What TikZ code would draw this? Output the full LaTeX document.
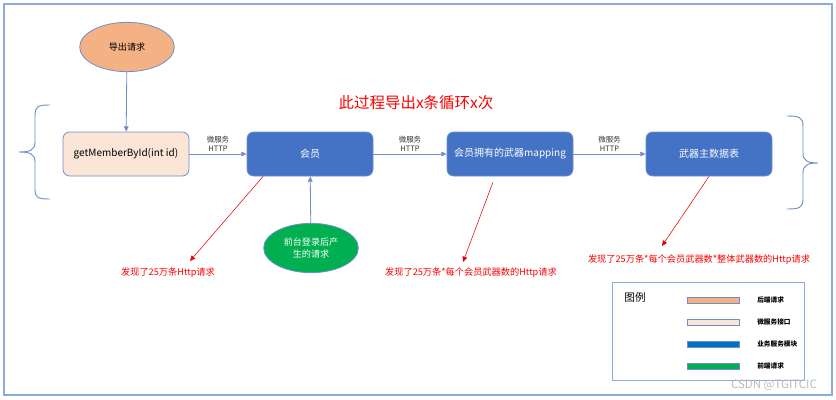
\documentclass[tikz,border=0pt]{standalone}
\usepackage{fontspec}
\setmainfont{Noto Sans CJK SC}
\usetikzlibrary{shapes.geometric,arrows.meta,calc}
\definecolor{reqorange}{HTML}{F4B183}
\definecolor{apipeach}{HTML}{FBE5D6}
\definecolor{svcblue}{HTML}{4472C4}
\definecolor{modblue}{HTML}{0070C0}
\definecolor{frontgreen}{HTML}{00B050}
\definecolor{edgeblue}{HTML}{6F8FC9}
\definecolor{framegray}{HTML}{8EA9DB}

\begin{document}
\begin{tikzpicture}[
  x=0.75pt, y=-0.75pt,
  oval/.style={ellipse,draw=edgeblue,line width=0.6pt,minimum width=71pt,minimum height=37pt,
    inner sep=0pt,align=center,font=\fontsize{6.8pt}{9pt}\selectfont},
  box/.style={rectangle,rounded corners=5pt,draw=edgeblue,line width=0.6pt,minimum width=94.5pt,
    minimum height=33pt,inner sep=0pt,font=\fontsize{7.5pt}{9pt}\selectfont},
  flow/.style={edgeblue,line width=0.6pt,-{Triangle[length=4pt,width=3.5pt]}},
  hit/.style={red!90!black,line width=0.4pt,-{Triangle[length=4pt,width=3.5pt]}},
  flowlabel/.style={text=black!80,font=\fontsize{5.6pt}{6.5pt}\selectfont,align=center,inner sep=1.5pt},
  warn/.style={red,font=\fontsize{6.9pt}{8pt}\selectfont,inner sep=0pt},
  brace/.style={edgeblue,line width=0.7pt},
  swatch/.style={draw=edgeblue,line width=0.4pt},
  legendtext/.style={font=\bfseries\fontsize{5pt}{6pt}\selectfont,anchor=west,inner sep=0pt}
]
\useasboundingbox (0,0) rectangle (836,400);
%% ─── Frame ───────────────────────────────────────────────────────────────────
\draw[framegray,line width=0.9pt] (4,4) rectangle (832,395);
%% ─── Title ───────────────────────────────────────────────────────────────────
\node[red,font=\fontsize{11.6pt}{13pt}\selectfont] (title) at (416,103) {此过程导出x条循环x次};
%% ─── Nodes ───────────────────────────────────────────────────────────────────
\node[oval,fill=reqorange] (export) at (127,47) {导出请求};
\node[box,fill=apipeach] (getmember) at (126,154) {getMemberById(int id)};
\node[box,fill=svcblue,text=white] (member) at (310,154) {会员};
\node[box,fill=svcblue,text=white] (mapping) at (510,154) {会员拥有的武器mapping};
\node[box,fill=svcblue,text=white] (weapon) at (709,154) {武器主数据表};
\node[oval,fill=frontgreen,text=white] (login) at (311,248) {前台登录后产\\生的请求};
%% ─── Calls ───────────────────────────────────────────────────────────────────
\draw[flow] (export) -- (getmember);
\draw[flow] (getmember) -- node[above,flowlabel] {微服务\\HTTP} (member);
\draw[flow] (member) -- node[above,flowlabel] {微服务\\HTTP} (mapping);
\draw[flow] (mapping) -- node[above,flowlabel] {微服务\\HTTP} (weapon);
\draw[flow] (login) -- (member);
%% ─── Findings ────────────────────────────────────────────────────────────────
\node[warn] (warn1) at (168,273) {发现了25万条Http请求};
\node[warn] (warn2) at (471,273) {发现了25万条*每个会员武器数的Http请求};
\node[warn] (warn3) at (699,260) {发现了25万条*每个会员武器数*整体武器数的Http请求};
\coordinate (tip1) at (190,261);
\coordinate (tip2) at (463,262);
\coordinate (tip3) at (662,246);
\draw[hit] ($(member.south west)!0.13!(member.south east)$) -- (tip1);
\draw[hit] ($(mapping.south west)!0.365!(mapping.south east)+(0,6)$) -- (tip2);
\draw[hit] (weapon.south) -- (tip3);
%% ─── Braces ──────────────────────────────────────────────────────────────────
\draw[brace] (50,105) .. controls (38,105) and (35,106) .. (35,116) -- (35,142)
  .. controls (35,150) and (30,152) .. (19,152) .. controls (30,152) and (35,154) .. (35,162)
  -- (35,189) .. controls (35,198) and (38,199) .. (50,199);
\draw[brace] (787,116) .. controls (799,116) and (803,117) .. (803,126) -- (803,153)
  .. controls (803,161) and (808,163) .. (818,163) .. controls (808,163) and (803,165) .. (803,173)
  -- (803,199) .. controls (803,208) and (799,209) .. (787,209);
%% ─── Legend ──────────────────────────────────────────────────────────────────
\draw[framegray,line width=0.7pt] (612,282) rectangle (804,380);
\node[font=\fontsize{8pt}{9pt}\selectfont] (legendtitle) at (635,297) {图例};
\foreach \y/\c/\t in {300/reqorange/后端请求, 322/apipeach/微服务接口, 344/modblue/业务服务模块, 366/frontgreen/前端请求}{
  \draw[swatch,fill=\c] (687,\y-3) rectangle (739,\y+3);
  \node[legendtext] at (757,\y) {\t};
}
%% ─── Watermark ───────────────────────────────────────────────────────────────
\node[gray!55,font=\fontsize{8.6pt}{10pt}\selectfont] (mark) at (774,385) {CSDN @TGITCIC};
\end{tikzpicture}
\end{document}
